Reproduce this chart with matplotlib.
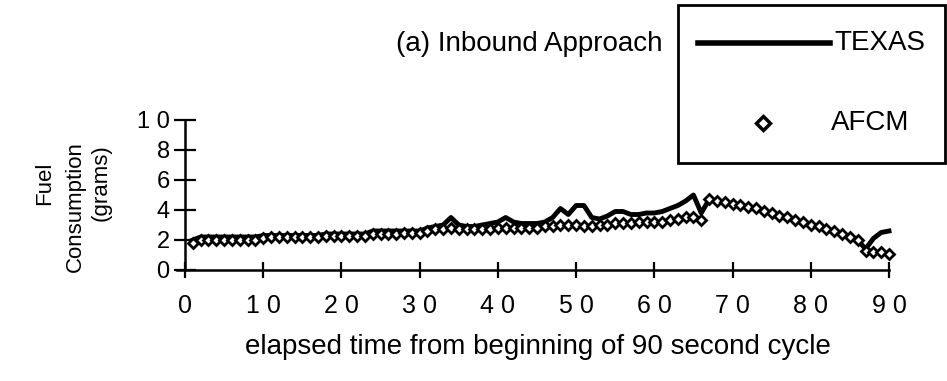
import matplotlib.pyplot as plt
from matplotlib.lines import Line2D
from matplotlib.patches import Rectangle

plt.rcParams['font.family'] = ['Liberation Sans', 'DejaVu Sans']

# elapsed seconds, one reading per second
seconds = list(range(1, 91))

afcm = [1.8, 2.0, 2.0, 2.0, 2.0, 2.0, 2.0, 2.0, 2.0, 2.1,
        2.2, 2.2, 2.2, 2.2, 2.2, 2.2, 2.2, 2.3, 2.3, 2.3,
        2.3, 2.3, 2.3, 2.4, 2.4, 2.4, 2.4, 2.5, 2.5, 2.5,
        2.6, 2.7, 2.7, 2.8, 2.7, 2.7, 2.7, 2.7, 2.7, 2.8,
        2.8, 2.8, 2.8, 2.8, 2.8, 2.9, 2.9, 3.0, 3.0, 3.0,
        2.9, 2.9, 3.0, 3.0, 3.1, 3.1, 3.1, 3.2, 3.2, 3.2,
        3.2, 3.3, 3.4, 3.5, 3.5, 3.3, 4.7, 4.6, 4.5, 4.4,
        4.3, 4.2, 4.1, 3.9, 3.8, 3.6, 3.5, 3.3, 3.2, 3.0,
        2.9, 2.7, 2.6, 2.4, 2.2, 2.0, 1.3, 1.2, 1.2, 1.1]

texas = [2.0, 2.2, 2.2, 2.2, 2.2, 2.2, 2.2, 2.2, 2.2, 2.3,
         2.3, 2.3, 2.3, 2.3, 2.3, 2.3, 2.3, 2.4, 2.4, 2.4,
         2.4, 2.4, 2.4, 2.6, 2.6, 2.6, 2.6, 2.6, 2.6, 2.6,
         2.8, 2.9, 3.0, 3.5, 3.0, 2.9, 2.9, 3.0, 3.1, 3.2,
         3.5, 3.2, 3.1, 3.1, 3.1, 3.2, 3.5, 4.1, 3.7, 4.3,
         4.3, 3.5, 3.4, 3.6, 3.9, 3.9, 3.7, 3.7, 3.8, 3.8,
         3.9, 4.1, 4.3, 4.6, 5.0, 3.8, 4.7, 4.6, 4.5, 4.4,
         4.3, 4.2, 4.1, 3.9, 3.8, 3.6, 3.5, 3.3, 3.2, 3.0,
         2.9, 2.7, 2.6, 2.4, 2.2, 2.0, 1.4, 2.1, 2.5, 2.6]

xticks = [0, 10, 20, 30, 40, 50, 60, 70, 80, 90]
xtick_labels = ['0', '1 0', '2 0', '3 0', '4 0', '5 0', '6 0', '7 0', '8 0', '9 0']
yticks = [0, 2, 4, 6, 8, 10]
ytick_labels = ['0', '2', '4', '6', '8', '1 0']

W, H = 947, 381


def fx(px):
    return px / W


def fy(py):
    return 1 - py / H


fig = plt.figure(figsize=(W / 100, H / 100), dpi=100)
ax = fig.add_axes([fx(185), fy(270), (889 - 185) / W, 150 / H])

ax.plot(seconds, texas, color='black', linewidth=3.5, zorder=2, clip_on=False)
ax.plot(seconds, afcm, linestyle='none', marker='D', markersize=5.5,
        markerfacecolor='white', markeredgecolor='black', markeredgewidth=2,
        zorder=3, clip_on=False)

ax.set_xlim(0, 90)
ax.set_ylim(0, 10)
ax.set_xticks(xticks)
ax.set_xticklabels(xtick_labels)
ax.set_yticks(yticks)
ax.set_yticklabels(ytick_labels)
for side in ['top', 'right']:
    ax.spines[side].set_visible(False)
for side in ['left', 'bottom']:
    ax.spines[side].set_linewidth(1.8)
ax.spines['bottom'].set_bounds(-1, 90)
ax.tick_params(axis='x', direction='inout', length=12, width=1.6, pad=11, labelsize=18)
ax.tick_params(axis='y', direction='inout', length=16, width=1.6, pad=3, labelsize=17)

fig.text(fx(662), fy(44), '(a) Inbound Approach', ha='right', va='center', fontsize=20)
fig.text(fx(538), fy(347), 'elapsed time from beginning of 90 second cycle',
         ha='center', va='center', fontsize=20)
fig.text(fx(45), fy(183), 'Fuel', rotation=90, ha='center', va='center', fontsize=16)
fig.text(fx(75), fy(207), 'Consumption', rotation=90, ha='center', va='center', fontsize=16)
fig.text(fx(101), fy(183), '(grams)', rotation=90, ha='center', va='center', fontsize=16)

# legend box
fig.add_artist(Rectangle((fx(678), fy(163)), (945 - 678) / W, (163 - 5) / H,
                         transform=fig.transFigure, fill=False,
                         edgecolor='black', linewidth=2))
fig.add_artist(Line2D([fx(698), fx(830)], [fy(43), fy(43)], transform=fig.transFigure,
                      color='black', linewidth=4))
fig.add_artist(Line2D([fx(763)], [fy(123)], transform=fig.transFigure, linestyle='none',
                      marker='D', markersize=7, markerfacecolor='white',
                      markeredgecolor='black', markeredgewidth=2.5))
fig.text(fx(834), fy(43), 'TEXAS', ha='left', va='center', fontsize=20)
fig.text(fx(831), fy(123), 'AFCM', ha='left', va='center', fontsize=20)

fig.savefig('out.png', dpi=100)
